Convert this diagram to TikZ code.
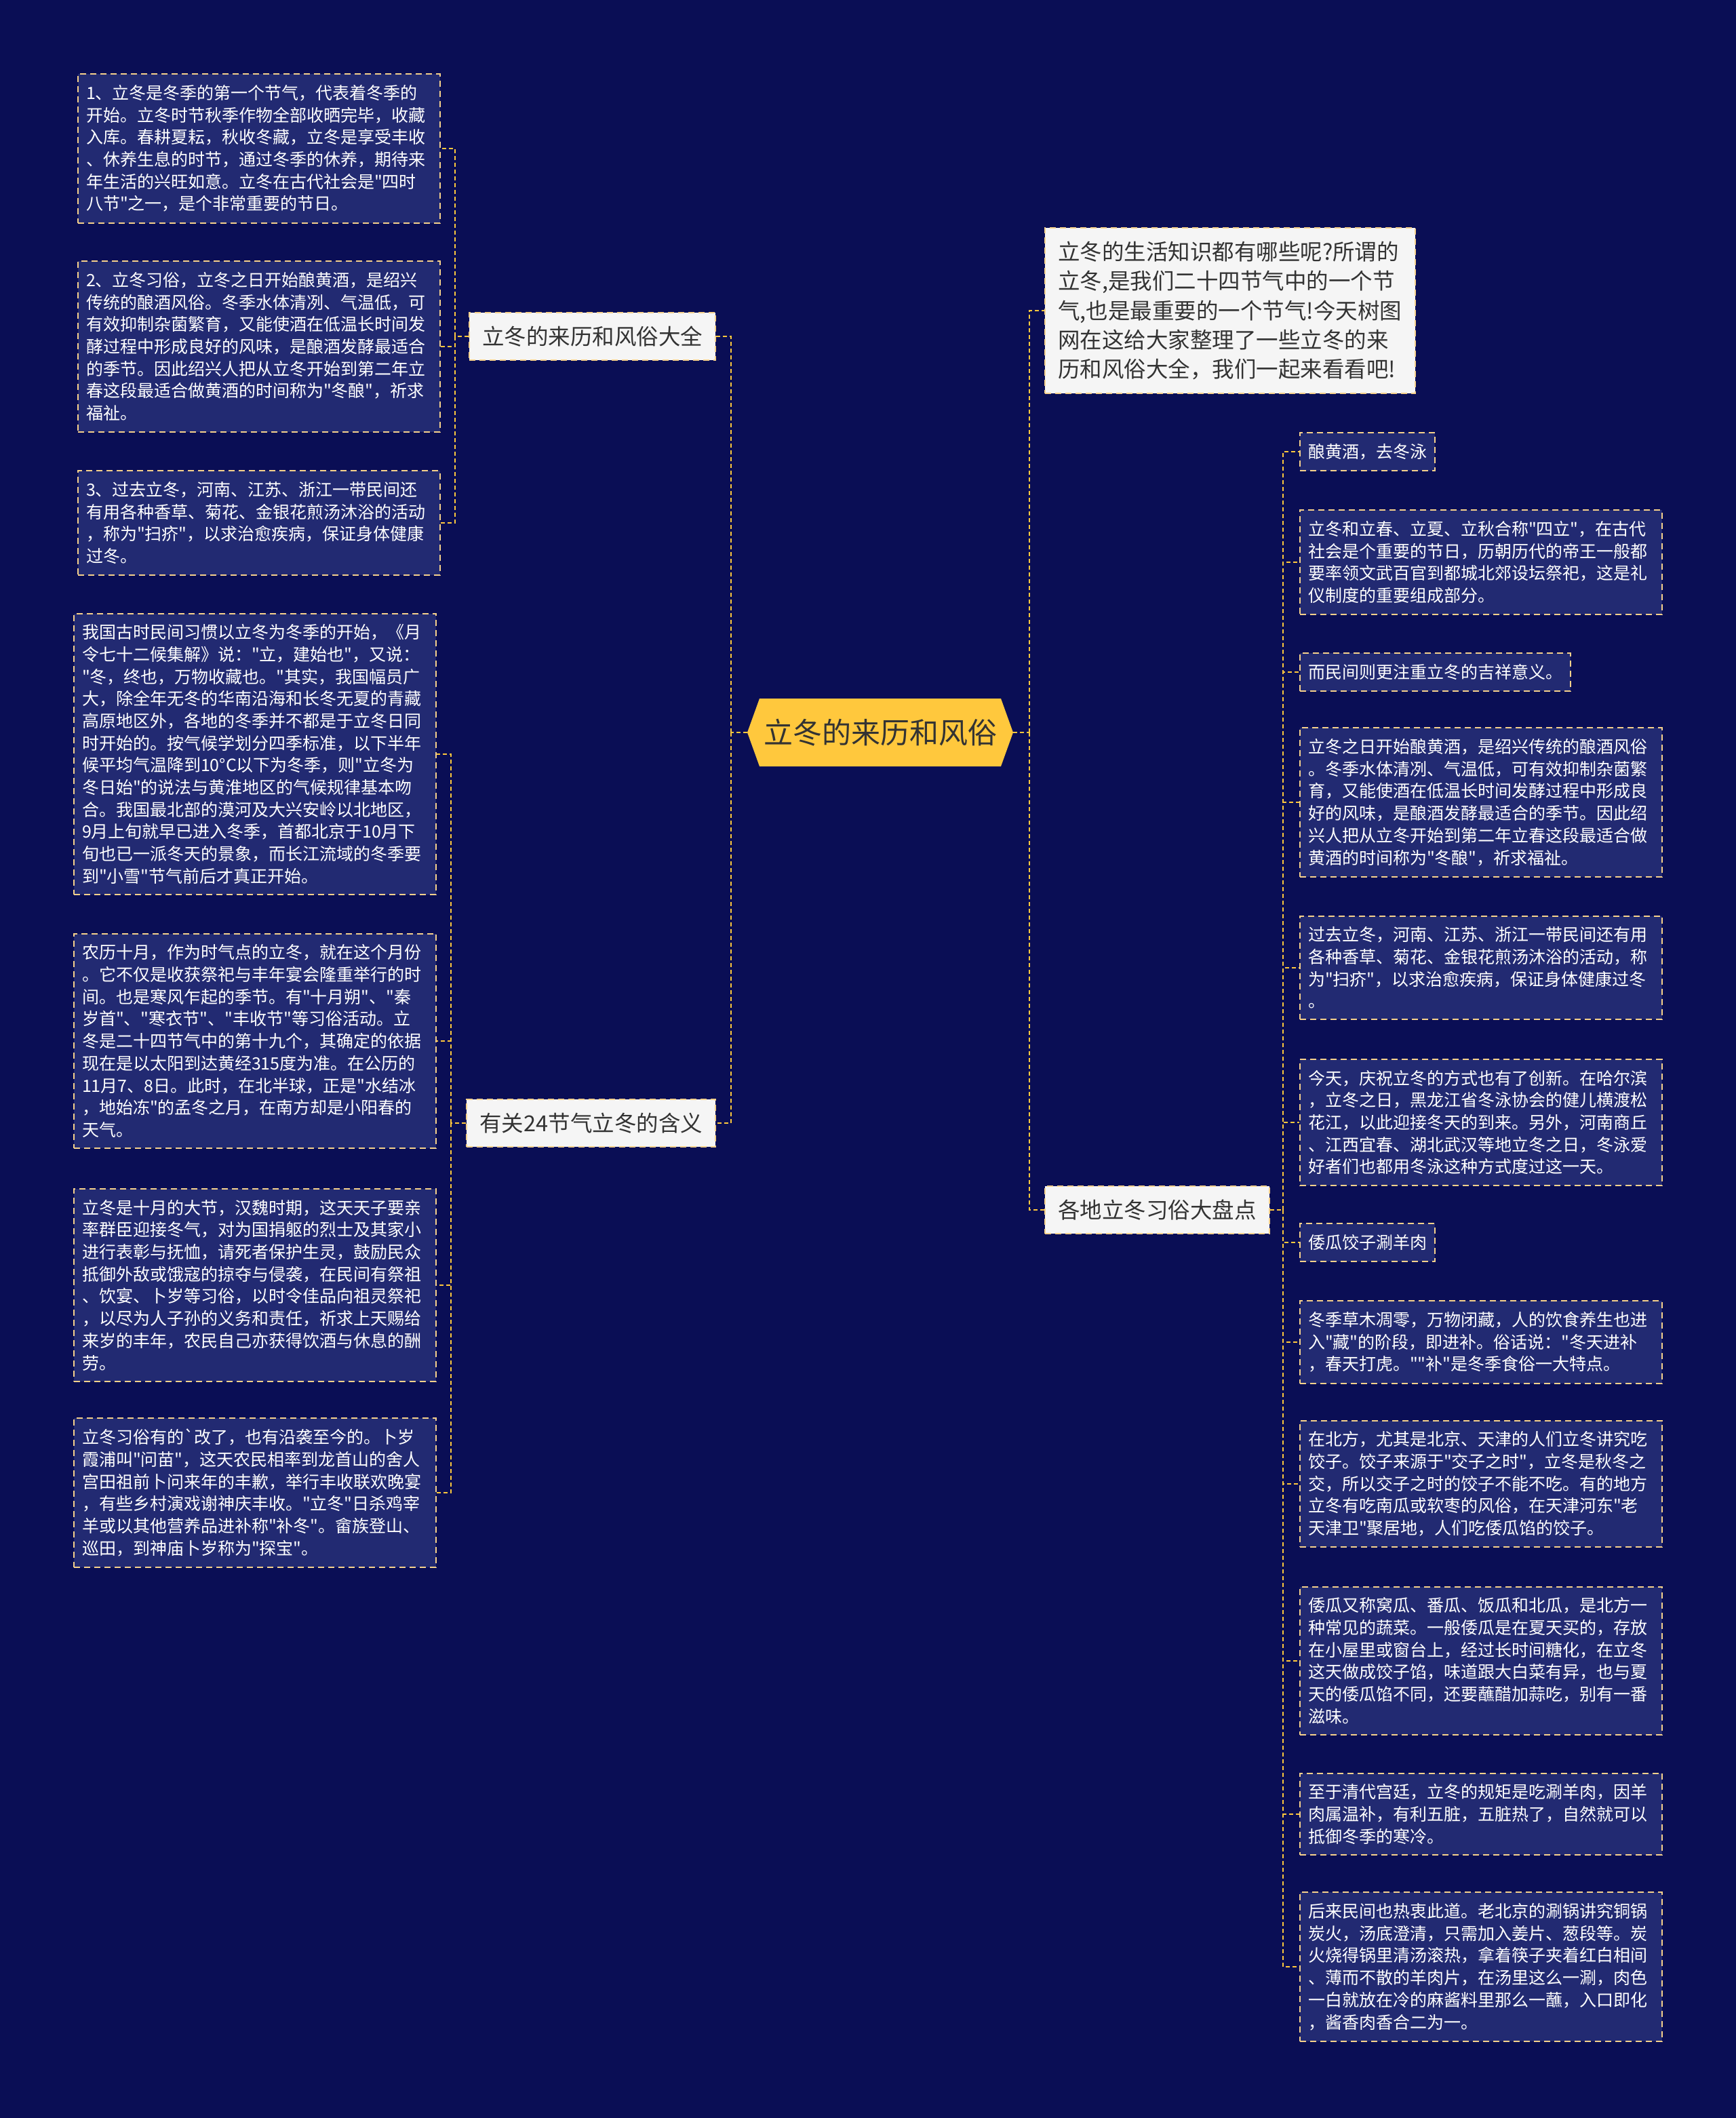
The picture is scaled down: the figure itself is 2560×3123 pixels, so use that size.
\documentclass[tikz,border=0pt]{standalone}
\usepackage{fontspec}
\setmainfont{Noto Sans CJK SC}[Ligatures=TeXOff]
\usepackage{tikz}
\usetikzlibrary{calc}
\usepackage{xcolor}
\definecolor{navy}{HTML}{0A0E55}
\definecolor{leafbg}{HTML}{222A72}
\definecolor{gold}{HTML}{FFC83D}
\definecolor{sand}{HTML}{F6D18B}
\definecolor{paper}{HTML}{F5F5F5}
\definecolor{ink}{HTML}{333333}

\begin{document}
\begin{tikzpicture}[x=0.5pt,y=-0.5pt,
  link/.style={gold,line width=1pt,dash pattern=on 3pt off 2pt},
  leaf/.style={draw=sand,fill=leafbg,line width=1pt,dash pattern=on 4.5pt off 3pt,text=white,font=\fontsize{12.5}{16.35}\selectfont,align=left,inner xsep=6pt,inner ysep=8pt,anchor=west},
  wide/.style={leaf,text width=255pt},
  topic/.style={draw=sand,fill=paper,line width=1pt,dash pattern=on 4.5pt off 3pt,text=ink,font=\fontsize{16.25}{21.6}\selectfont,align=left,inner xsep=9.5pt,inner ysep=10pt}]
\fill[navy] (0,0) rectangle (2560,3123);
\useasboundingbox (0,0) rectangle (2560,3123);
% root
\coordinate (mid) at (1298,1080);
\fill[gold] ([xshift=-98pt]mid) -- ([xshift=-89pt,yshift=25pt]mid) -- ([xshift=89pt,yshift=25pt]mid) -- ([xshift=98pt]mid) -- ([xshift=89pt,yshift=-25pt]mid) -- ([xshift=-89pt,yshift=-25pt]mid) -- cycle;
\node[text=ink,font=\fontsize{21.5}{26}\selectfont,minimum width=196pt,minimum height=50pt,inner sep=0pt] (root) at (mid) {立冬的来历和风俗};
% main topics
\node[topic,anchor=east] (ta) at (1056,496) {立冬的来历和风俗大全};
\node[topic,anchor=east] (tb) at (1056,1656) {有关24节气立冬的含义};
\node[topic,anchor=west,text width=254pt] (tc) at (1540,458) {立冬的生活知识都有哪些呢?所谓的\\立冬,是我们二十四节气中的一个节\\气,也是最重要的一个节气!今天树图\\网在这给大家整理了一些立冬的来\\历和风俗大全，我们一起来看看吧!};
\node[topic,anchor=west] (td) at (1540,1784) {各地立冬习俗大盘点};
% left, first group
\node[wide] (a1) at (114,219) {1、立冬是冬季的第一个节气，代表着冬季的\\开始。立冬时节秋季作物全部收晒完毕，收藏\\入库。春耕夏耘，秋收冬藏，立冬是享受丰收\\、休养生息的时节，通过冬季的休养，期待来\\年生活的兴旺如意。立冬在古代社会是"四时\\八节"之一，是个非常重要的节日。};
\node[wide] (a2) at (114,511) {2、立冬习俗，立冬之日开始酿黄酒，是绍兴\\传统的酿酒风俗。冬季水体清冽、气温低，可\\有效抑制杂菌繁育，又能使酒在低温长时间发\\酵过程中形成良好的风味，是酿酒发酵最适合\\的季节。因此绍兴人把从立冬开始到第二年立\\春这段最适合做黄酒的时间称为"冬酿"，祈求\\福祉。};
\node[wide] (a3) at (114,771) {3、过去立冬，河南、江苏、浙江一带民间还\\有用各种香草、菊花、金银花煎汤沐浴的活动\\，称为"扫疥"，以求治愈疾病，保证身体健康\\过冬。};
% left, second group
\node[wide] (b1) at (108,1112) {我国古时民间习惯以立冬为冬季的开始，《月\\令七十二候集解》说："立，建始也"，又说：\\"冬，终也，万物收藏也。"其实，我国幅员广\\大，除全年无冬的华南沿海和长冬无夏的青藏\\高原地区外，各地的冬季并不都是于立冬日同\\时开始的。按气候学划分四季标准，以下半年\\候平均气温降到10°C以下为冬季，则"立冬为\\冬日始"的说法与黄淮地区的气候规律基本吻\\合。我国最北部的漠河及大兴安岭以北地区，\\9月上旬就早已进入冬季，首都北京于10月下\\旬也已一派冬天的景象，而长江流域的冬季要\\到"小雪"节气前后才真正开始。};
\node[wide] (b2) at (108,1535) {农历十月，作为时气点的立冬，就在这个月份\\。它不仅是收获祭祀与丰年宴会隆重举行的时\\间。也是寒风乍起的季节。有"十月朔"、"秦\\岁首"、"寒衣节"、"丰收节"等习俗活动。立\\冬是二十四节气中的第十九个，其确定的依据\\现在是以太阳到达黄经315度为准。在公历的\\11月7、8日。此时，在北半球，正是"水结冰\\，地始冻"的孟冬之月，在南方却是小阳春的\\天气。};
\node[wide] (b3) at (108,1895) {立冬是十月的大节，汉魏时期，这天天子要亲\\率群臣迎接冬气，对为国捐躯的烈士及其家小\\进行表彰与抚恤，请死者保护生灵，鼓励民众\\抵御外敌或饿寇的掠夺与侵袭，在民间有祭祖\\、饮宴、卜岁等习俗，以时令佳品向祖灵祭祀\\，以尽为人子孙的义务和责任，祈求上天赐给\\来岁的丰年，农民自己亦获得饮酒与休息的酬\\劳。};
\node[wide] (b4) at (108,2201) {立冬习俗有的\textasciigrave 改了，也有沿袭至今的。卜岁\\霞浦叫"问苗"，这天农民相率到龙首山的舍人\\宫田祖前卜问来年的丰歉，举行丰收联欢晚宴\\，有些乡村演戏谢神庆丰收。"立冬"日杀鸡宰\\羊或以其他营养品进补称"补冬"。畲族登山、\\巡田，到神庙卜岁称为"探宝"。};
% right group
\node[leaf] (r1) at (1916,666) {酿黄酒，去冬泳};
\node[wide] (r2) at (1916,829) {立冬和立春、立夏、立秋合称"四立"，在古代\\社会是个重要的节日，历朝历代的帝王一般都\\要率领文武百官到都城北郊设坛祭祀，这是礼\\仪制度的重要组成部分。};
\node[leaf] (r3) at (1916,991) {而民间则更注重立冬的吉祥意义。};
\node[wide] (r4) at (1916,1183) {立冬之日开始酿黄酒，是绍兴传统的酿酒风俗\\。冬季水体清冽、气温低，可有效抑制杂菌繁\\育，又能使酒在低温长时间发酵过程中形成良\\好的风味，是酿酒发酵最适合的季节。因此绍\\兴人把从立冬开始到第二年立春这段最适合做\\黄酒的时间称为"冬酿"，祈求福祉。};
\node[wide] (r5) at (1916,1427) {过去立冬，河南、江苏、浙江一带民间还有用\\各种香草、菊花、金银花煎汤沐浴的活动，称\\为"扫疥"，以求治愈疾病，保证身体健康过冬\\。};
\node[wide] (r6) at (1916,1655) {今天，庆祝立冬的方式也有了创新。在哈尔滨\\，立冬之日，黑龙江省冬泳协会的健儿横渡松\\花江，以此迎接冬天的到来。另外，河南商丘\\、江西宜春、湖北武汉等地立冬之日，冬泳爱\\好者们也都用冬泳这种方式度过这一天。};
\node[leaf] (r7) at (1916,1832) {倭瓜饺子涮羊肉};
\node[wide] (r8) at (1916,1979) {冬季草木凋零，万物闭藏，人的饮食养生也进\\入"藏"的阶段，即进补。俗话说："冬天进补\\，春天打虎。""补"是冬季食俗一大特点。};
\node[wide] (r9) at (1916,2188) {在北方，尤其是北京、天津的人们立冬讲究吃\\饺子。饺子来源于"交子之时"，立冬是秋冬之\\交，所以交子之时的饺子不能不吃。有的地方\\立冬有吃南瓜或软枣的风俗，在天津河东"老\\天津卫"聚居地，人们吃倭瓜馅的饺子。};
\node[wide] (r10) at (1916,2449) {倭瓜又称窝瓜、番瓜、饭瓜和北瓜，是北方一\\种常见的蔬菜。一般倭瓜是在夏天买的，存放\\在小屋里或窗台上，经过长时间糖化，在立冬\\这天做成饺子馅，味道跟大白菜有异，也与夏\\天的倭瓜馅不同，还要蘸醋加蒜吃，别有一番\\滋味。};
\node[wide] (r11) at (1916,2675) {至于清代宫廷，立冬的规矩是吃涮羊肉，因羊\\肉属温补，有利五脏，五脏热了，自然就可以\\抵御冬季的寒冷。};
\node[wide] (r12) at (1916,2900) {后来民间也热衷此道。老北京的涮锅讲究铜锅\\炭火，汤底澄清，只需加入姜片、葱段等。炭\\火烧得锅里清汤滚热，拿着筷子夹着红白相间\\、薄而不散的羊肉片，在汤里这么一涮，肉色\\一白就放在冷的麻酱料里那么一蘸，入口即化\\，酱香肉香合二为一。};
% connectors
\coordinate (jl) at (1078,1080);
\coordinate (jr) at (1518,1080);
\draw[link] (root.west) -- (jl) (jl) |- (ta.east) (jl) |- (tb.east);
\draw[link] (root.east) -- (jr) (jr) |- (tc.west) (jr) |- (td.west);
\coordinate (ja) at (671,496);
\draw[link] (ta.west) -- (ja);
\foreach \n in {a1,a2,a3} \draw[link] (ja) |- (\n.east);
\coordinate (jb) at (665,1656);
\draw[link] (tb.west) -- (jb);
\foreach \n in {b1,b2,b3,b4} \draw[link] (jb) |- (\n.east);
\coordinate (jc) at (1892,1784);
\draw[link] (td.east) -- (jc);
\foreach \n in {r1,r2,r3,r4,r5,r6,r7,r8,r9,r10,r11,r12} \draw[link] (jc) |- (\n.west);
\end{tikzpicture}
\end{document}
